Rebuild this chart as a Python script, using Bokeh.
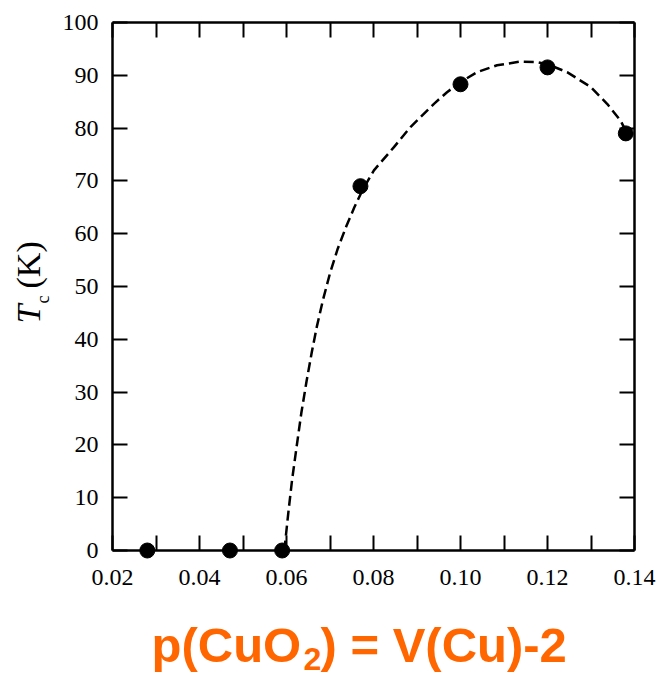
import math
from bokeh.plotting import figure
from bokeh.models import Range1d, LinearAxis, FixedTicker, PrintfTickFormatter, ColumnDataSource
from bokeh.core.properties import value
from bokeh.embed import file_html
from bokeh.resources import INLINE

# ---- data ----
doping = [0.028, 0.047, 0.059, 0.077, 0.100, 0.120, 0.138]
tc = [0.0, 0.0, 0.0, 69.0, 88.3, 91.5, 79.0]

curve_x = [0.0595, 0.0604, 0.0613, 0.0623, 0.0634, 0.0646, 0.0658, 0.0670, 0.0684,
           0.0700, 0.0718, 0.0737, 0.0756, 0.0775, 0.0801, 0.0847, 0.0885, 0.0939,
           0.0969, 0.1000, 0.1038, 0.1084, 0.1138, 0.1176, 0.1200, 0.1245, 0.1299,
           0.1337, 0.1368, 0.1383]
curve_y = [0.0, 7.0, 13.5, 19.5, 26.0, 32.0, 37.5, 42.5, 47.5,
           52.5, 57.2, 61.3, 65.0, 68.3, 72.0, 76.4, 80.2, 84.6,
           86.8, 88.7, 90.6, 91.9, 92.6, 92.5, 92.1, 90.6, 87.8,
           84.6, 81.4, 79.0]

x_ticks = [0.02, 0.04, 0.06, 0.08, 0.10, 0.12, 0.14]
x_minor_ticks = [0.03, 0.05, 0.07, 0.09, 0.11, 0.13]
y_ticks = [0, 10, 20, 30, 40, 50, 60, 70, 80, 90, 100]

title_main_1 = "p(CuO"
title_sub = "2"
title_main_2 = ") = V(Cu)-2"
ylabel_main = "T"
ylabel_sub = "c"
ylabel_unit = "(K)"

# ---- layout ----
X0, X1 = 0.02, 0.14
Y0, Y1 = 0.0, 100.0
FRAME_W, FRAME_H = 522, 528

def fx(px):  # pixel offset from frame left -> data x
    return X0 + px * (X1 - X0) / FRAME_W

def fy(py):  # pixel offset from frame bottom (up positive) -> data y
    return Y0 + py * (Y1 - Y0) / FRAME_H

p = figure(width=656, height=676, x_range=Range1d(X0, X1), y_range=Range1d(Y0, Y1),
           output_backend="svg", toolbar_location=None,
           min_border_left=112, min_border_right=22, min_border_top=22, min_border_bottom=126)
p.grid.visible = False
p.outline_line_color = None
p.background_fill_color = "white"
p.border_fill_color = "white"

def style(ax, labels=True):
    ax.axis_line_width = 2.5
    ax.axis_line_color = "black"
    ax.major_tick_line_width = 2
    ax.minor_tick_line_width = 2
    ax.major_tick_in = 15
    ax.major_tick_out = 0
    ax.minor_tick_in = 15
    ax.minor_tick_out = 0
    ax.major_tick_line_color = "black"
    ax.minor_tick_line_color = "black"
    if labels:
        ax.major_label_text_font = "Liberation Serif"
        ax.major_label_text_font_size = "24px"
        ax.major_label_text_color = "black"
    else:
        ax.major_label_text_font_size = "1px"
        ax.major_label_text_color = None
        ax.major_label_standoff = 0

xb = p.xaxis[0]
xb.ticker = FixedTicker(ticks=x_ticks, minor_ticks=x_minor_ticks)
xb.formatter = PrintfTickFormatter(format="%.2f")
style(xb)
xb.major_label_standoff = 19

yl = p.yaxis[0]
yl.ticker = FixedTicker(ticks=y_ticks)
style(yl)
yl.major_label_standoff = 14

xt = LinearAxis(ticker=FixedTicker(ticks=x_ticks, minor_ticks=x_minor_ticks))
style(xt, labels=False)
p.add_layout(xt, "above")

yr = LinearAxis(ticker=FixedTicker(ticks=y_ticks))
style(yr, labels=False)
p.add_layout(yr, "right")

# dashed guide curve
p.line(curve_x, curve_y, line_color="black", line_width=2.5, line_dash="10 5")

# data points
src = ColumnDataSource(data=dict(x=doping, y=tc))
r = p.scatter("x", "y", source=src, size=15, fill_color="black", line_color="black")
r.level = "overlay"

def lab(px, py, text, size, color="black", font="Liberation Serif", style_="normal", angle=0.0):
    t = p.text(x=[fx(px)], y=[fy(py)], text=[text], angle=angle,
               text_font=value(font), text_font_style=style_, text_font_size=size,
               text_color=color, text_baseline="middle", text_align="left")
    t.level = "overlay"

# y-axis label  T_c (K)  (rotated; anchor = middle of the text box)
lab(-84.5, 227, ylabel_main, "34px", style_="italic", angle=math.pi / 2)
lab(-70.0, 247, ylabel_sub, "18px", angle=math.pi / 2)
lab(-84.5, 262, ylabel_unit, "34px", angle=math.pi / 2)

# orange formula below the chart
orange = "#FF6600"
lab(39, -94, title_main_1, "49px", color=orange, font="Liberation Sans", style_="bold")
lab(191, -108, title_sub, "32px", color=orange, font="Liberation Sans", style_="bold")
lab(208, -94, title_main_2, "49px", color=orange, font="Liberation Sans", style_="bold")

open("out.html", "w").write(file_html(p, INLINE))
